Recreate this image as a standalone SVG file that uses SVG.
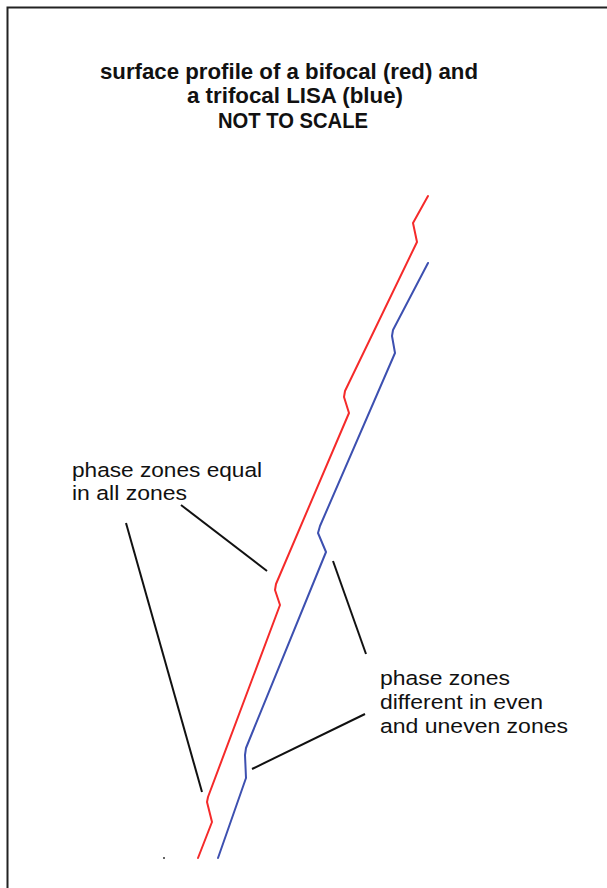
<svg xmlns="http://www.w3.org/2000/svg" width="607" height="888" viewBox="0 0 607 888">
<style>
.title{font-family:"Liberation Sans",Arial,sans-serif;font-weight:bold;font-size:21.5px;fill:#111;}
.lab{font-family:"Liberation Sans",Arial,sans-serif;font-size:20.5px;fill:#111;}
.prof{fill:none;stroke-width:2;stroke-linejoin:round;stroke-linecap:round;}
.lead{stroke:#111;stroke-width:2;fill:none;}
</style>
<rect width="607" height="888" fill="#fff"/>
<path d="M7.5,888 V7.5 H607" fill="none" stroke="#222" stroke-width="2"/>
<g id="title">
<text class="title" x="100" y="79" textLength="378" lengthAdjust="spacingAndGlyphs">surface profile of a bifocal (red) and</text>
<text class="title" x="187" y="103" textLength="216" lengthAdjust="spacingAndGlyphs">a trifocal LISA (blue)</text>
<text class="title" x="218" y="128" textLength="150" lengthAdjust="spacingAndGlyphs">NOT TO SCALE</text>
</g>
<g id="bifocal-red">
<path class="prof" stroke="#f52a2a" d="M428,196 L413,223 L417,242 L345,391 L344,397 L349,413 L276,584 L275,590 L280,605 L208,797 L207,802 L212,822 L198,858"/>
</g>
<g id="trifocal-blue">
<path class="prof" stroke="#3d50b0" d="M428,263 L393,330 L392,336 L395,353 L320,526 L318,533 L326,552 L246,748 L245,755 L246,778 L218,858"/>
</g>
<g id="label-equal">
<text class="lab" x="72" y="477" textLength="190" lengthAdjust="spacingAndGlyphs">phase zones equal</text>
<text class="lab" x="72" y="500" textLength="115" lengthAdjust="spacingAndGlyphs">in all zones</text>
</g>
<g id="label-different">
<text class="lab" x="380" y="685" textLength="130" lengthAdjust="spacingAndGlyphs">phase zones</text>
<text class="lab" x="380" y="709" textLength="163" lengthAdjust="spacingAndGlyphs">different in even</text>
<text class="lab" x="380" y="733" textLength="188" lengthAdjust="spacingAndGlyphs">and uneven zones</text>
</g>
<g id="connectors">
<line class="lead" x1="181" y1="505" x2="267" y2="571"/>
<line class="lead" x1="126" y1="523" x2="202" y2="792"/>
<line class="lead" x1="333" y1="561" x2="366" y2="654"/>
<line class="lead" x1="365" y1="714" x2="252" y2="769"/>
</g>
<circle cx="164" cy="858" r="1" fill="#333"/>
</svg>
